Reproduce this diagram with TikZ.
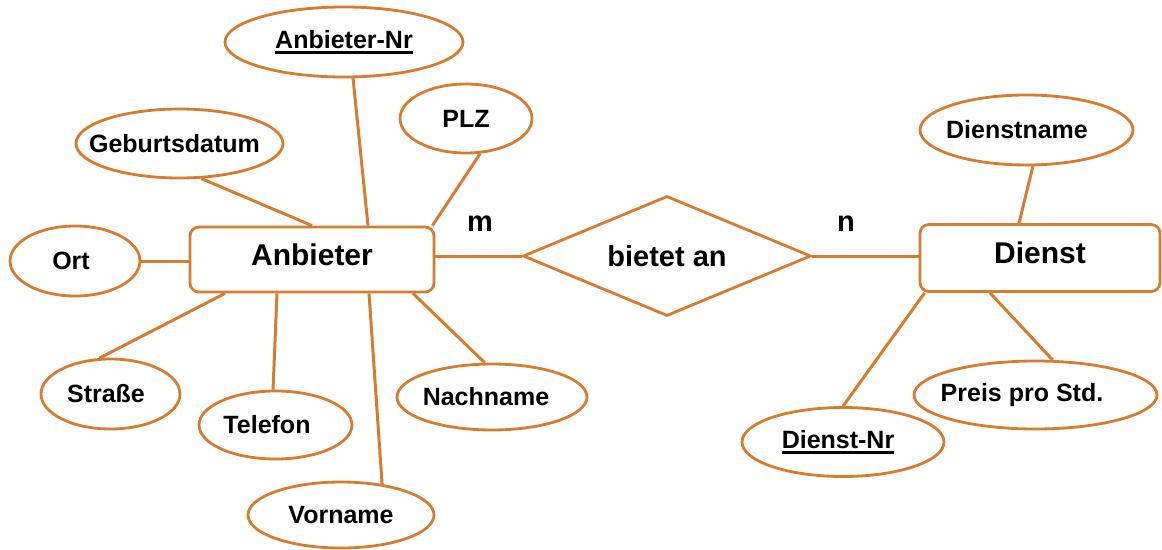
\documentclass[tikz,border=0pt]{standalone}
\usepackage{fontspec}
\setmainfont{Liberation Sans}
\usetikzlibrary{shapes.geometric,calc,backgrounds}
\definecolor{erorange}{RGB}{213,124,47}
\newcommand{\keyul}[1]{\sbox0{#1}\rlap{\rule[-5pt]{\wd0}{2.2pt}}\usebox0}
\begin{document}
\begin{tikzpicture}[x=1pt,y=-1pt,
  conn/.style={draw=erorange,line width=3pt},
  attr/.style={ellipse,draw=erorange,line width=2.8pt,fill=white,inner sep=0pt,
    font=\fontsize{25}{30}\selectfont\bfseries},
  entity/.style={rectangle,rounded corners=9pt,draw=erorange,line width=2.8pt,fill=white,
    inner sep=0pt,font=\fontsize{30}{36}\selectfont\bfseries},
  relation/.style={diamond,aspect=2.4,draw=erorange,line width=2.8pt,fill=white,inner sep=0pt,
    font=\fontsize{29}{34}\selectfont\bfseries},
  card/.style={inner sep=0pt,font=\fontsize{29}{34}\selectfont\bfseries}]
\useasboundingbox (0,0) rectangle (1162,549);
% entities
\node[entity,minimum width=244,minimum height=65] (anb) at (312,259.5) {\raisebox{9pt}{Anbieter}};
\node[entity,minimum width=240,minimum height=67] (dienst) at (1040,258) {\raisebox{10pt}{Dienst}};
% relationship
\node[relation,minimum width=288,minimum height=120] (rel) at (667,256) {bietet an};
\node[card] (m) at (480,224) {m};
\node[card] (n) at (846,224) {n};
% attributes
\node[attr,minimum width=238,minimum height=70] (anr) at (344,42) {\makebox[0pt]{\keyul{Anbieter-Nr}}};
\node[attr,minimum width=207,minimum height=69] (geb) at (179.5,143.5) {\makebox[0pt]{\hspace*{-10pt}Geburtsdatum}};
\node[attr,minimum width=132,minimum height=69] (plz) at (466,118.5) {\makebox[0pt]{PLZ}};
\node[attr,minimum width=130,minimum height=70] (ort) at (75,261) {\makebox[0pt]{\hspace*{-8pt}Ort}};
\node[attr,minimum width=139,minimum height=70] (str) at (110.5,394) {\makebox[0pt]{\hspace*{-9pt}Straße}};
\node[attr,minimum width=153,minimum height=68] (tel) at (275.5,425) {\makebox[0pt]{\hspace*{-17pt}Telefon}};
\node[attr,minimum width=186,minimum height=66] (vor) at (341,515) {\makebox[0pt]{Vorname}};
\node[attr,minimum width=190,minimum height=66] (nach) at (492,397) {\makebox[0pt]{\hspace*{-12pt}Nachname}};
\node[attr,minimum width=213,minimum height=70] (dna) at (1026.5,130) {\makebox[0pt]{\hspace*{-19pt}Dienstname}};
\node[attr,minimum width=243,minimum height=68] (pre) at (1035.5,395) {\makebox[0pt]{\hspace*{-27pt}Preis pro Std.}};
\node[attr,minimum width=202,minimum height=69] (dn) at (843,442) {\makebox[0pt]{\hspace*{-10pt}\keyul{Dienst-Nr}}};
% connectors
\begin{scope}[on background layer]
\draw[conn] (anr.-76) -- ([xshift=56pt]anb.north);
\draw[conn] (geb.-58) -- (anb.north);
\draw[conn] (plz.-68) -- ([xshift=-3pt]anb.north east);
\draw[conn] (ort.east) -- (ort.east -| anb.west);
\draw[conn] (str.107) -- ([xshift=-87pt]anb.south);
\draw[conn] (tel.94) -- ([xshift=-35pt]anb.south);
\draw[conn] (vor.37) -- ([xshift=57pt]anb.south);
\draw[conn] (nach.102) -- ([xshift=101pt]anb.south);
\draw[conn] (rel.west -| anb.east) -- (rel.west);
\draw[conn] (rel.east) -- (rel.east -| dienst.west);
\draw[conn] (dna.-80) -- ([xshift=-21pt]dienst.north);
\draw[conn] (dn.90) -- ([xshift=6pt]dienst.south west);
\draw[conn] (pre.64) -- ([xshift=-50pt]dienst.south);
\end{scope}
\end{tikzpicture}
\end{document}
